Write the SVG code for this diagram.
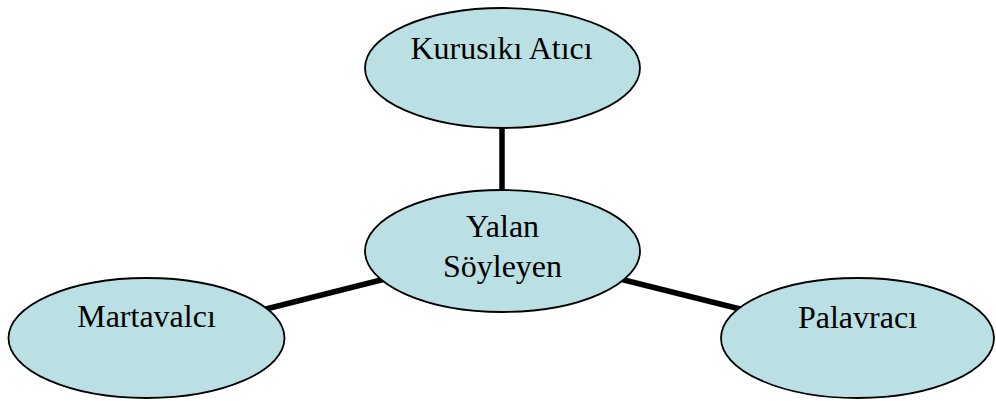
<svg xmlns="http://www.w3.org/2000/svg" width="996" height="401" viewBox="0 0 996 401">
<style>
.node{fill:#BBE0E3;stroke:#000;stroke-width:1.8}
.lbl{font-family:"Liberation Serif","Times New Roman",serif;font-size:32px;fill:#000;text-anchor:middle}
.conn{stroke:#000;stroke-width:5.5;fill:none}
</style>
<rect width="996" height="401" fill="#fff"/>
<g id="connectors">
<line class="conn" x1="502" y1="128" x2="502" y2="191"/>
<line class="conn" x1="266" y1="309" x2="385" y2="279"/>
<line class="conn" x1="620" y1="279" x2="740" y2="309"/>
</g>
<g id="node-kurusiki">
<ellipse class="node" cx="502.5" cy="68" rx="137.5" ry="60"/>
<text class="lbl" x="501.5" y="59">Kurusıkı Atıcı</text>
</g>
<g id="node-yalan">
<ellipse class="node" cx="502.5" cy="251" rx="137.5" ry="61"/>
<text class="lbl" x="502.5" y="237">Yalan</text>
<text class="lbl" x="502.5" y="277">Söyleyen</text>
</g>
<g id="node-martavalci">
<ellipse class="node" cx="146.5" cy="338" rx="138" ry="60"/>
<text class="lbl" x="146.5" y="327">Martavalcı</text>
</g>
<g id="node-palavraci">
<ellipse class="node" cx="857.5" cy="338" rx="136.5" ry="60"/>
<text class="lbl" x="857.5" y="328">Palavracı</text>
</g>
</svg>
